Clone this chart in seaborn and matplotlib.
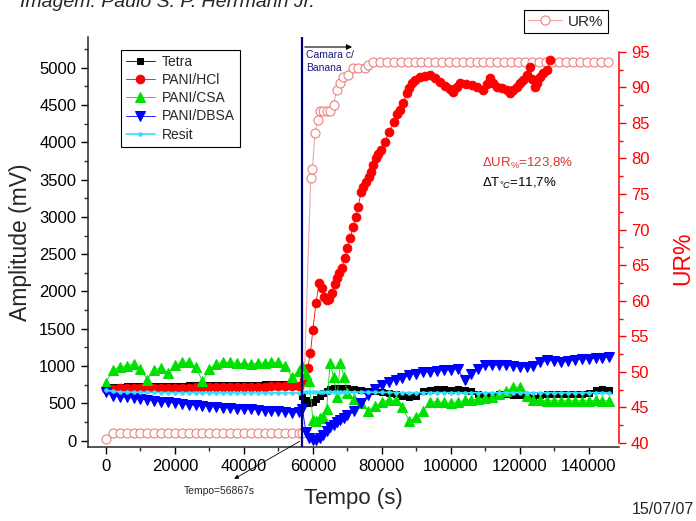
import matplotlib
matplotlib.use("Agg")
import matplotlib.pyplot as plt
import seaborn as sns

# tempos (s) comuns para Tetra, PANI/CSA, PANI/DBSA e Resit
tempo = [0, 2000, 4000, 6000, 8000, 10000, 12000, 14000, 16000, 18000,
         20000, 22000, 24000, 26000, 28000, 30000, 32000, 34000, 36000, 38000,
         40000, 42000, 44000, 46000, 48000, 50000, 52000, 54000, 56000,
         57000, 58000, 59000, 60000, 61000, 62000, 63000, 64000, 65000, 66000,
         67000, 68000, 69000, 70000,
         72000, 74000, 76000, 78000, 80000, 82000, 84000, 86000, 88000, 90000,
         92000, 94000, 96000, 98000, 100000, 102000, 104000, 106000, 108000, 110000,
         112000, 114000, 116000, 118000, 120000, 122000, 124000, 126000, 128000, 130000,
         132000, 134000, 136000, 138000, 140000, 142000, 144000, 146000]

tetra = [700, 720, 725, 730, 730, 735, 735, 735, 740, 740,
         740, 740, 745, 745, 745, 745, 745, 750, 750, 750,
         750, 750, 750, 755, 755, 755, 755, 755, 750,
         600, 540, 500, 520, 560, 600, 640, 670, 690, 700,
         705, 710, 705, 700,
         690, 680, 670, 660, 650, 640, 620, 600, 590, 600,
         660, 680, 690, 690, 680, 690, 680, 660, 620, 610,
         610, 620, 620, 610, 610, 580, 570, 610, 620, 620,
         620, 620, 630, 630, 640, 680, 690, 680]

pani_csa = [780, 950, 990, 1000, 1030, 960, 820, 950, 975, 910,
            1010, 1050, 1055, 990, 800, 960, 1030, 1055, 1050, 1040,
            1035, 1030, 1040, 1045, 1055, 1050, 1000, 850, 940,
            1000, 900, 800, 280, 270, 300, 320, 420, 1040, 860,
            590, 1040, 860, 640,
            560, 500, 400, 460, 520, 545, 545, 450, 260, 320,
            400, 520, 525, 515, 500, 520, 540, 550, 560, 570,
            590, 620, 660, 720, 715, 600, 545, 540, 536, 536,
            535, 535, 536, 536, 536, 540, 536, 536]

pani_dbsa = [650, 600, 590, 580, 570, 560, 550, 535, 525, 515,
             505, 495, 485, 478, 468, 458, 450, 443, 435, 430,
             425, 420, 413, 405, 400, 395, 390, 378, 385,
             420, 120, 30, 10, 5, 30, 80, 130, 180, 215,
             250, 280, 310, 345,
             400, 510, 610, 690, 750, 790, 820, 840, 880, 900,
             915, 925, 935, 945, 950, 960, 820, 900, 960, 1010,
             1015, 1015, 1015, 1000, 990, 990, 995, 1050, 1080, 1075,
             1060, 1065, 1085, 1095, 1100, 1105, 1110, 1125]

resit = [680, 660, 655, 652, 650, 650, 648, 648, 646, 646,
         645, 645, 645, 644, 644, 643, 643, 642, 642, 642,
         641, 641, 640, 640, 640, 640, 640, 640, 640,
         650, 655, 657, 657, 657, 657, 657, 657, 657, 657,
         657, 657, 656, 655,
         654, 652, 650, 650, 648, 648, 646, 646, 645, 645,
         645, 645, 645, 644, 644, 644, 643, 643, 643, 643,
         643, 643, 643, 643, 643, 643, 643, 643, 643, 643,
         643, 643, 643, 643, 643, 643, 643, 643]

# PANI/HCl com tempos proprios
tempo_hcl = [0, 2000, 4000, 6000, 8000, 10000, 12000, 14000, 16000, 18000,
             20000, 22000, 24000, 26000, 28000, 30000, 32000, 34000, 36000, 38000,
             40000, 42000, 44000, 46000, 48000, 50000, 52000, 54000, 56000,
             57500, 58500, 59300, 60000, 60900, 61800, 62600, 63300, 64100, 64800,
             65500, 66300, 67000, 67700, 68400, 69300, 69900, 70800, 71600, 72500,
             73100, 74000, 74700, 75400, 76200, 76900, 77600, 78300, 79000, 79800,
             80900, 82100, 83500, 84500, 85300, 86100, 87300, 88000, 88700, 89600,
             91100, 92500, 94000, 95500, 96900, 98300, 99800, 100600, 101700, 102700,
             104400, 106100, 107700, 109300, 110400, 111400, 112400, 113400, 114800, 116300,
             117200, 118200, 119200, 120100, 120900, 122000, 123000, 123700, 124400, 125100,
             125900, 126900, 127900, 128800]
pani_hcl = [690, 695, 700, 700, 702, 705, 705, 707, 708, 710,
            710, 712, 712, 714, 715, 715, 717, 718, 720, 720,
            722, 724, 725, 726, 728, 730, 732, 735, 738,
            810, 970, 1175, 1480, 1840, 2110, 2050, 1920, 1885, 1900,
            1980, 2100, 2180, 2250, 2315, 2450, 2580, 2715, 2860, 3000,
            3130, 3330, 3400, 3470, 3530, 3600, 3700, 3790, 3840, 3895,
            4000, 4140, 4270, 4380, 4430, 4525, 4660, 4730, 4790, 4840,
            4875, 4890, 4900, 4860, 4806, 4760, 4710, 4672, 4744, 4790,
            4780, 4766, 4740, 4700, 4780, 4860, 4800, 4740, 4720, 4700,
            4660, 4700, 4740, 4790, 4833, 4900, 5010, 4850, 4740, 4800,
            4873, 4930, 4967, 5100]

# umidade relativa (eixo direito)
tempo_ur = [0, 2000, 4000, 6000, 8000, 10000, 12000, 14000, 16000, 18000,
            20000, 22000, 24000, 26000, 28000, 30000, 32000, 34000, 36000, 38000,
            40000, 42000, 44000, 46000, 48000, 50000, 52000, 54000, 56000,
            57000, 59400, 59900, 60600, 61500, 62000, 63000, 64000, 65000, 66000,
            66900, 67900, 68800, 70300, 71700, 73200, 75100, 76100, 77500,
            79500, 81500, 83500, 85500, 87500, 89500, 91500, 93500, 95500, 97500,
            99500, 101500, 103500, 105500, 107500, 109500, 111500, 113500, 115500, 117500,
            119500, 121500, 123500, 125500, 127500, 129500, 131500, 133500, 135500, 137500,
            139500, 141500, 143500, 145500]
ur = [40.5, 41.4, 41.4, 41.4, 41.4, 41.4, 41.4, 41.4, 41.4, 41.4,
      41.4, 41.4, 41.4, 41.4, 41.4, 41.4, 41.4, 41.4, 41.4, 41.4,
      41.4, 41.4, 41.4, 41.4, 41.4, 41.4, 41.4, 41.4, 41.4,
      41.4, 77.3, 78.5, 83.6, 85.4, 86.7, 86.7, 86.7, 86.7, 87.5,
      89.6, 90.6, 91.5, 91.7, 92.7, 92.7, 92.7, 93.1, 93.6,
      93.6, 93.6, 93.6, 93.6, 93.6, 93.6, 93.6, 93.6, 93.6, 93.6,
      93.6, 93.6, 93.6, 93.6, 93.6, 93.6, 93.6, 93.6, 93.6, 93.6,
      93.6, 93.6, 93.6, 93.6, 93.6, 93.6, 93.6, 93.6, 93.6, 93.6,
      93.6, 93.6, 93.6, 93.6]

t_evento = 56867

sns.set_style("ticks")
plt.rcParams["font.family"] = ["Liberation Sans", "DejaVu Sans"]
plt.rcParams["mathtext.fontset"] = "custom"
plt.rcParams["mathtext.rm"] = "Liberation Sans"
plt.rcParams["mathtext.it"] = "Liberation Sans:italic"

fig = plt.figure(figsize=(6.96, 5.21), dpi=100)
ax1 = fig.add_axes([88 / 696, 74 / 521, 531 / 696, 410 / 521])
ax2 = ax1.twinx()
ax1.set_zorder(2)
ax2.set_zorder(1)
ax1.patch.set_visible(False)

common = dict(ax=ax1, legend=False, sort=False, estimator=None)
sns.lineplot(x=tempo, y=tetra, color="black", marker="s", markersize=4.8,
             markeredgecolor="black", linewidth=0.6, label="Tetra", **common)
sns.lineplot(x=tempo_hcl, y=pani_hcl, color="#ff0000", marker="o", markersize=6.2,
             markeredgecolor="#ff0000", linewidth=0.6, label="PANI/HCl", **common)
sns.lineplot(x=tempo, y=pani_csa, color="#00e000", marker="^", markersize=7.5,
             markeredgecolor="#00e000", linewidth=0.6, label="PANI/CSA", **common)
sns.lineplot(x=tempo, y=pani_dbsa, color="#0000ff", marker="v", markersize=7.5,
             markeredgecolor="#0000ff", linewidth=0.6, label="PANI/DBSA", **common)
sns.lineplot(x=tempo, y=resit, color="#33ddff", marker="o", markersize=2.5,
             markeredgecolor="#33ddff", linewidth=1.2, label="Resit", **common)

sns.lineplot(x=tempo_ur, y=ur, ax=ax2, legend=False, sort=False, estimator=None,
             color="#f4a5a5", marker="o", markersize=6.5, markerfacecolor="white",
             markeredgecolor="#ee8080", markeredgewidth=0.8, linewidth=0.8, label="UR%")

ax1.axvline(t_evento, color="#000080", linewidth=1.6, zorder=5)

ax1.set_xlim(-5200, 148800)
ax1.set_ylim(-84, 5410)
ax2.set_ylim(39.44, 97.08)

ax1.set_xticks(range(0, 140001, 20000))
ax1.set_xticks(range(10000, 150000, 20000), minor=True)
ax1.set_yticks(range(0, 5001, 500))
ax1.set_yticks(range(250, 5400, 500), minor=True)
ax2.set_yticks(range(40, 96, 5))
ax2.set_yticks([42.5 + 5 * i for i in range(11)], minor=True)

ax1.tick_params(which="major", direction="out", length=5, width=1, labelsize=12, colors="black")
ax1.tick_params(which="minor", direction="out", length=3, width=1)
ax2.tick_params(axis="y", which="major", direction="out", length=5, width=1,
                labelsize=12, colors="red")
ax2.tick_params(axis="y", which="minor", direction="out", length=3, width=1, colors="red")

for s in ["top", "right"]:
    ax1.spines[s].set_visible(False)
for s in ["top", "left", "bottom"]:
    ax2.spines[s].set_visible(False)
ax1.spines["left"].set_linewidth(1.1)
ax1.spines["bottom"].set_linewidth(1.1)
ax2.spines["right"].set_color("red")
ax2.spines["right"].set_linewidth(1.1)
ax2.spines["right"].set_bounds(40, 95)

ax1.set_xlabel("Tempo (s)", fontsize=16, labelpad=10)
ax1.set_ylabel("Amplitude (mV)", fontsize=16.5, labelpad=5)
ax2.set_ylabel("UR%", fontsize=16.5, color="red")
ax2.yaxis.set_label_coords(1.098, 0.46)

leg = ax1.legend(loc="upper left", bbox_to_anchor=(0.062, 0.968), borderaxespad=0,
                 fontsize=10, frameon=True, fancybox=False, framealpha=1,
                 edgecolor="black", handlelength=2.1, handletextpad=0.5,
                 labelspacing=0.3, borderpad=0.35, numpoints=1)
leg.get_frame().set_linewidth(0.8)

leg2 = ax2.legend(loc="upper right", bbox_to_anchor=(608 / 696, 1 - 10 / 521),
                  bbox_transform=fig.transFigure, borderaxespad=0, fontsize=11,
                  frameon=True, fancybox=False, framealpha=1, edgecolor="black",
                  handlelength=2.2, handletextpad=0.4, borderpad=0.3, numpoints=1)
leg2.get_frame().set_linewidth(0.8)

# anotacoes
ax1.annotate("", xy=(72200, 5276), xytext=(t_evento, 5276),
             arrowprops=dict(arrowstyle="-|>", color="black", lw=0.8, mutation_scale=8),
             zorder=6)
ax1.text(58000, 5230, "Camara c/\nBanana", fontsize=7.5, color="#1a1a80",
         va="top", ha="left", linespacing=1.35, zorder=6)
ax1.text(109000, 3721, r"$\Delta$UR$_{\%}$=123,8%", fontsize=9.5, color="#e03030",
         va="center", ha="left")
ax1.text(109000, 3453, r"$\Delta$T$_{°C}$=11,7%", fontsize=9.5, color="black",
         va="center", ha="left")
ax1.annotate("", xy=(36500, -530), xytext=(t_evento, 10), annotation_clip=False,
             arrowprops=dict(arrowstyle="-|>", color="black", lw=0.6, mutation_scale=6))
ax1.text(33000, -600, "Tempo=56867s", fontsize=7.5, ha="center", va="top", clip_on=False)

fig.text(20 / 696, 1 - 7 / 521, "Imagem: Paulo S. P. Herrmann Jr.", fontsize=14,
         style="italic", ha="left", va="baseline")
fig.text(694 / 696, 1 - 510 / 521, "15/07/07", fontsize=11.5, ha="right", va="center")

fig.savefig("out.png", dpi=100)
